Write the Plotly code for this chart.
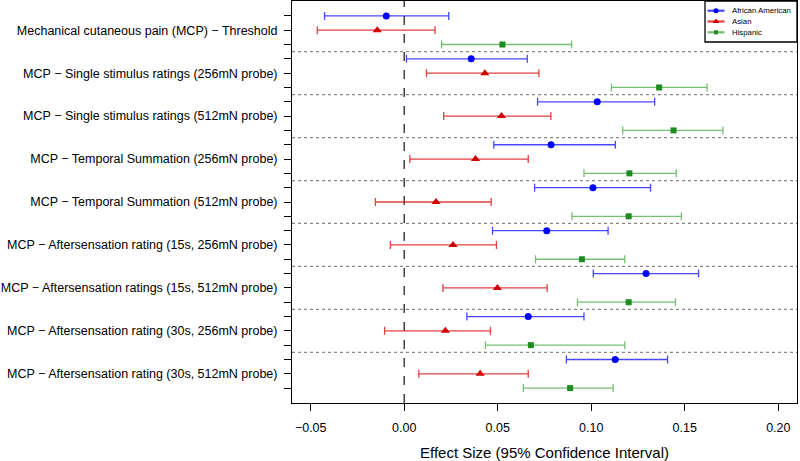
import plotly.graph_objects as go

outcomes = [
    "Mechanical cutaneous pain (MCP) \u2212 Threshold",
    "MCP \u2212 Single stimulus ratings (256mN probe)",
    "MCP \u2212 Single stimulus ratings (512mN probe)",
    "MCP \u2212 Temporal Summation (256mN probe)",
    "MCP \u2212 Temporal Summation (512mN probe)",
    "MCP \u2212 Aftersensation rating (15s, 256mN probe)",
    "MCP \u2212 Aftersensation ratings (15s, 512mN probe)",
    "MCP \u2212 Aftersensation rating (30s, 256mN probe)",
    "MCP \u2212 Aftersensation rating (30s, 512mN probe)",
]

aa_est = [-0.0096, 0.0358, 0.1032, 0.0785, 0.1009, 0.0762, 0.1293, 0.0663, 0.1128]
aa_lo  = [-0.0426, 0.0012, 0.0713, 0.0479, 0.0697, 0.0472, 0.1011, 0.0335, 0.0867]
aa_hi  = [0.0238, 0.0658, 0.1339, 0.1129, 0.1317, 0.1090, 0.1574, 0.0961, 0.1408]

as_est = [-0.0144, 0.0431, 0.0520, 0.0381, 0.0170, 0.0261, 0.0498, 0.0220, 0.0406]
as_lo  = [-0.0465, 0.0119, 0.0211, 0.0030, -0.0154, -0.0074, 0.0207, -0.0105, 0.0078]
as_hi  = [0.0165, 0.0720, 0.0784, 0.0663, 0.0465, 0.0493, 0.0764, 0.0461, 0.0663]

hi_est = [0.0525, 0.1363, 0.1440, 0.1204, 0.1200, 0.0950, 0.1200, 0.0677, 0.0887]
hi_lo  = [0.0200, 0.1108, 0.1168, 0.0961, 0.0897, 0.0702, 0.0926, 0.0434, 0.0637]
hi_hi  = [0.0895, 0.1619, 0.1704, 0.1454, 0.1482, 0.1179, 0.1450, 0.1179, 0.1117]

x_ticks = [-0.05, 0.00, 0.05, 0.10, 0.15, 0.20]
legend_names = ["African American", "Asian", "Hispanic"]

series = [
    (aa_est, aa_lo, aa_hi, "#0000FF", "rgba(40,40,255,0.85)", "circle", 7),
    (as_est, as_lo, as_hi, "#D00000", "rgba(220,30,30,0.85)", "triangle-up", 8),
    (hi_est, hi_lo, hi_hi, "#1E8B1E", "rgba(70,170,70,0.75)", "square", 6),
]

n = len(outcomes)
fig = go.Figure()
for k, (est, lo, hi, mcol, lcol, sym, size) in enumerate(series):
    ys = [3 * g + k + 1 for g in range(n)]
    fig.add_trace(go.Scatter(
        x=est, y=ys, mode="markers", showlegend=False, name=legend_names[k],
        marker=dict(color=mcol, symbol=sym, size=size),
        error_x=dict(type="data", symmetric=False,
                     array=[h - e for h, e in zip(hi, est)],
                     arrayminus=[e - l for e, l in zip(est, lo)],
                     color=lcol, thickness=1.3, width=4),
    ))

# separators between groups
for g in range(1, n):
    fig.add_shape(type="line", xref="paper", x0=0, x1=1, y0=3 * g + 0.5, y1=3 * g + 0.5,
                  line=dict(color="#888888", width=1.3, dash="dot"), layer="below")
fig.add_shape(type="line", yref="paper", y0=0, y1=1, x0=0, x1=0,
              line=dict(color="#333333", width=1.4, dash="dash"), layer="below")

# manual legend (pixel-like overlay axes)
L, R, T, B = 292, 797, 1, 403
fig.add_shape(type="rect", xref="x2", yref="y2", x0=705, x1=797, y0=1, y1=42,
              line=dict(color="black", width=1.3), fillcolor="white", layer="below")
for k, (est, lo, hi, mcol, lcol, sym, size) in enumerate(series):
    yy = 10.7 + 10.8 * k
    fig.add_trace(go.Scatter(x=[707.5, 724.5], y=[yy, yy], xaxis="x2", yaxis="y2",
                             mode="lines", line=dict(color=lcol, width=2.2),
                             showlegend=False, hoverinfo="skip"))
    fig.add_trace(go.Scatter(x=[716], y=[yy], xaxis="x2", yaxis="y2", mode="markers",
                             marker=dict(color=mcol, symbol=sym, size=size - 2),
                             showlegend=False, hoverinfo="skip"))
    fig.add_annotation(x=(731 - L) / (R - L), y=1 - (yy - T) / (B - T),
                       xref="paper", yref="paper", text=legend_names[k],
                       showarrow=False, xanchor="left", yanchor="middle",
                       borderpad=0, font=dict(size=7.8))

tickvals = list(range(1, 3 * n + 1))
ticktext = [outcomes[(v - 1) // 3] if (v - 1) % 3 == 1 else "" for v in tickvals]

fig.update_layout(
    width=800, height=461,
    margin=dict(l=L, r=800 - R, t=T, b=461 - B),
    paper_bgcolor="white", plot_bgcolor="white",
    font=dict(family="Liberation Sans, Arial, sans-serif", size=12.5, color="black"),
    showlegend=False,
    xaxis=dict(
        range=[-0.05 - 0.04 * 0.25, 0.2 + 0.04 * 0.25],
        tickvals=x_ticks, tickformat=".2f",
        ticks="outside", ticklen=7, tickcolor="black",
        showline=True, linecolor="black", linewidth=1, mirror=True,
        showgrid=False, zeroline=False, automargin=False, ticklabelstandoff=6,
        title=dict(text="Effect Size (95% Confidence Interval)", standoff=18),
    ),
    yaxis=dict(
        range=[3 * n + 1.04, -0.04],
        tickvals=tickvals, ticktext=ticktext,
        ticks="outside", ticklen=7, tickcolor="black",
        showline=True, linecolor="black", linewidth=1, mirror=True,
        showgrid=False, zeroline=False, ticklabelstandoff=4, automargin=False,
    ),
    xaxis2=dict(overlaying="x", range=[L, R], visible=False, fixedrange=True),
    yaxis2=dict(overlaying="y", range=[B, T], visible=False, fixedrange=True),
)

fig.write_html("out.html", config={"displayModeBar": False},
               post_script="document.body.style.margin='0px';document.body.style.overflow='hidden';")
